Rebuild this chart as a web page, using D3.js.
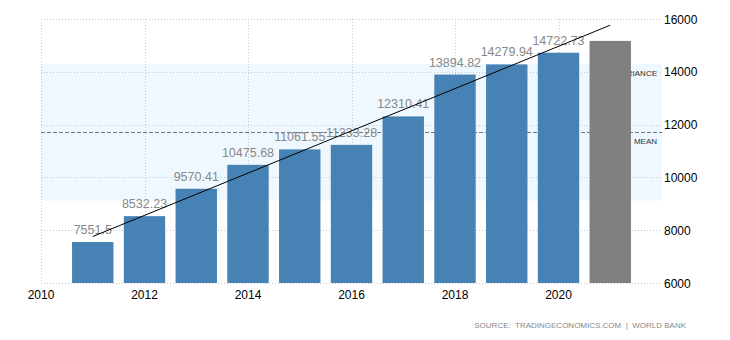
<!DOCTYPE html>
<html><head><meta charset="utf-8">
<script src="https://cdn.jsdelivr.net/npm/d3@7"></script>
<style>
html,body{margin:0;padding:0;background:#fff;}
svg text{font-family:"Liberation Sans",Arial,sans-serif;}
</style></head>
<body>
<svg id="chart" width="730" height="340"></svg>
<script>
const years = [2011,2012,2013,2014,2015,2016,2017,2018,2019,2020];
const values = [7551.5,8532.23,9570.41,10475.68,11061.55,11233.28,12310.41,13894.82,14279.94,14722.73];
const forecastYear = 2021;
const forecastValue = 15170;
const xTicks = [2010,2012,2014,2016,2018,2020];
const yTicks = [6000,8000,10000,12000,14000,16000];
const source = "SOURCE:  TRADINGECONOMICS.COM  |  WORLD BANK";

const svg = d3.select("#chart");
const L = 41, R = 662, T = 19, B = 283;
const x = d3.scaleLinear().domain([2010,2022]).range([L,R]);
const y = d3.scaleLinear().domain([6000,16000]).range([B,T]);
const bw = (x(2011)-x(2010))*0.8;

// stats (mean and std over all 11 bars incl. forecast)
const all = values.concat([forecastValue]);
const mean = d3.mean(all);
const sd = d3.deviation(all);

// band
svg.append("rect").attr("x",L).attr("width",R-L)
  .attr("y",y(mean+sd)).attr("height",y(mean-sd)-y(mean+sd))
  .attr("fill","#f0f8ff");

// gridlines
svg.append("g").selectAll("line").data(yTicks).join("line")
  .attr("x1",L).attr("x2",R).attr("y1",d=>Math.round(y(d))+0.5).attr("y2",d=>Math.round(y(d))+0.5)
  .attr("stroke","#c8c8c8").attr("stroke-dasharray","1,2");
svg.append("g").selectAll("line").data(xTicks).join("line")
  .attr("x1",d=>Math.round(x(d))+0.5).attr("x2",d=>Math.round(x(d))+0.5).attr("y1",T).attr("y2",B)
  .attr("stroke","#c8c8c8").attr("stroke-dasharray","1,2");

// mean line
svg.append("line").attr("x1",L).attr("x2",R)
  .attr("y1",Math.round(y(mean))+0.5).attr("y2",Math.round(y(mean))+0.5)
  .attr("stroke","#777").attr("stroke-dasharray","4,2");

svg.append("text").attr("x",657).attr("y",y(mean+sd)+12).attr("text-anchor","end")
  .attr("font-size",8).attr("fill","#333").text("VARIANCE");
svg.append("text").attr("x",657).attr("y",y(mean)+12).attr("text-anchor","end")
  .attr("font-size",8).attr("fill","#333").text("MEAN");

// bars
svg.append("g").selectAll("rect").data(years).join("rect")
  .attr("x",(d)=>x(d)-bw/2).attr("width",bw)
  .attr("y",(d,i)=>y(values[i])).attr("height",(d,i)=>B-y(values[i]))
  .attr("fill","#4682b4");
svg.append("rect").attr("x",x(forecastYear)-bw/2).attr("width",bw)
  .attr("y",y(forecastValue)).attr("height",B-y(forecastValue))
  .attr("fill","#808080");

// value labels
svg.append("g").selectAll("text").data(years).join("text")
  .attr("x",d=>x(d)).attr("y",(d,i)=>y(values[i])-8)
  .attr("text-anchor","middle").attr("font-size",12.5).attr("fill","#888")
  .text((d,i)=>values[i]);

// trend line (regression on actual values)
const mx = d3.mean(years), my = d3.mean(values);
let sxy=0,sxx=0;
years.forEach((yr,i)=>{sxy+=(yr-mx)*(values[i]-my);sxx+=(yr-mx)*(yr-mx);});
const slope = sxy/sxx, icpt = my - slope*mx;
svg.append("line")
  .attr("x1",x(2011)).attr("y1",y(icpt+slope*2011))
  .attr("x2",x(forecastYear)).attr("y2",y(icpt+slope*forecastYear))
  .attr("stroke","#000").attr("stroke-width",1);

// axes labels
svg.append("g").selectAll("text").data(xTicks).join("text")
  .attr("x",d=>x(d)).attr("y",299).attr("text-anchor","middle")
  .attr("font-size",12).attr("fill","#000").text(d=>d);
svg.append("g").selectAll("text").data(yTicks).join("text")
  .attr("x",664).attr("y",d=>y(d)+4.5).attr("text-anchor","start")
  .attr("font-size",12).attr("fill","#000").text(d=>d);

svg.append("text").attr("x",686).attr("y",328).attr("text-anchor","end")
  .attr("font-size",8).attr("fill","#888").attr("letter-spacing","0")
  .style("white-space","pre").text(source);
</script>
</body></html>
